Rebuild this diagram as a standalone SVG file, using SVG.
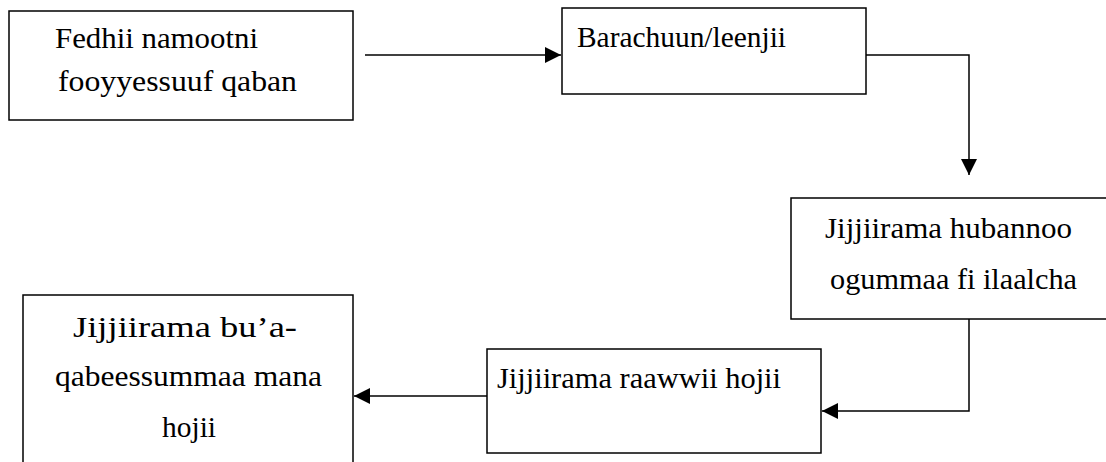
<svg xmlns="http://www.w3.org/2000/svg" width="1106" height="462" viewBox="0 0 1106 462">
<style>
.box{fill:#fff;stroke:#000;stroke-width:1.5}
.t{font-family:"Liberation Serif","Times New Roman",serif;font-size:30px;fill:#000}
.c{fill:none;stroke:#000;stroke-width:1.5}
</style>
<defs>
<marker id="ah" viewBox="0 0 10 10" refX="10" refY="5" markerWidth="16" markerHeight="16" markerUnits="userSpaceOnUse" orient="auto">
<path d="M0,0 L10,5 L0,10 z" fill="#000"/>
</marker>
</defs>
<rect width="1106" height="462" fill="#fff"/>
<g id="n1">
<rect class="box" x="9" y="11" width="344" height="109"/>
<text class="t" x="55" y="48" textLength="203" lengthAdjust="spacingAndGlyphs">Fedhii namootni</text>
<text class="t" x="58" y="91" textLength="239" lengthAdjust="spacingAndGlyphs">fooyyessuuf qaban</text>
</g>
<g id="n2">
<rect class="box" x="562" y="8" width="304" height="86"/>
<text class="t" x="577" y="47" textLength="209" lengthAdjust="spacingAndGlyphs">Barachuun/leenjii</text>
</g>
<g id="n3">
<rect class="box" x="791" y="198" width="330" height="121"/>
<text class="t" x="825" y="238" textLength="247" lengthAdjust="spacingAndGlyphs">Jijjiirama hubannoo</text>
<text class="t" x="830" y="289" textLength="247" lengthAdjust="spacingAndGlyphs">ogummaa fi ilaalcha</text>
</g>
<g id="n4">
<rect class="box" x="487" y="349" width="334" height="104"/>
<text class="t" x="497" y="388" textLength="284" lengthAdjust="spacingAndGlyphs">Jijjiirama raawwii hojii</text>
</g>
<g id="n5">
<rect class="box" x="23" y="295" width="330" height="180"/>
<text class="t" x="73" y="337" textLength="224" lengthAdjust="spacingAndGlyphs">Jijjiirama bu’a-</text>
<text class="t" x="55" y="386" textLength="267" lengthAdjust="spacingAndGlyphs">qabeessummaa mana</text>
<text class="t" x="162" y="437" textLength="54" lengthAdjust="spacingAndGlyphs">hojii</text>
</g>
<g id="connectors">
<path class="c" d="M365,55 H561" marker-end="url(#ah)"/>
<path class="c" d="M866,55 H969 V175" marker-end="url(#ah)"/>
<path class="c" d="M969,319 V411 H822" marker-end="url(#ah)"/>
<path class="c" d="M487,396 H354" marker-end="url(#ah)"/>
</g>
</svg>
